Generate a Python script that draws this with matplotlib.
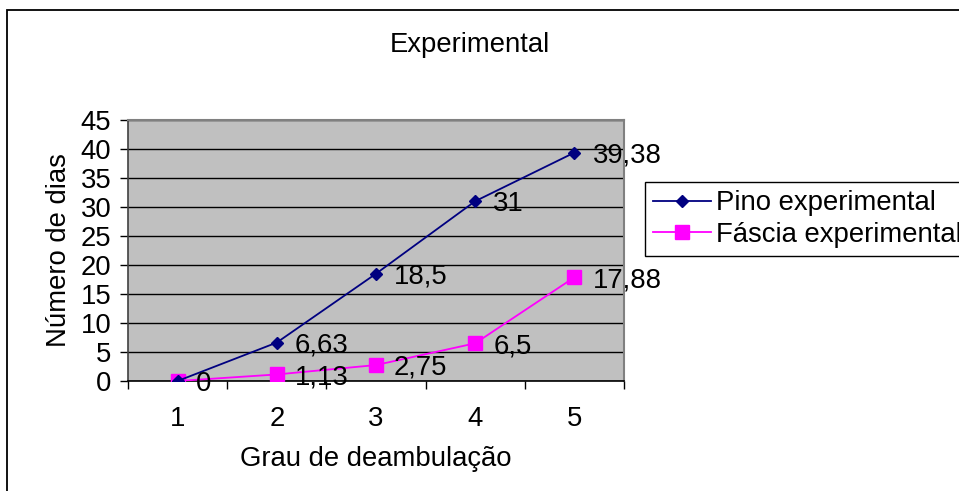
import matplotlib
matplotlib.use('Agg')
import matplotlib.pyplot as plt
from matplotlib.patches import Rectangle

plt.rcParams['font.family'] = ['Liberation Sans', 'DejaVu Sans']

# data
graus = [1, 2, 3, 4, 5]
pino = [0, 6.63, 18.5, 31, 39.38]
fascia = [0, 1.13, 2.75, 6.5, 17.88]
pino_labels = ['0', '6,63', '18,5', '31', '39,38']
fascia_labels = ['0', '1,13', '2,75', '6,5', '17,88']
y_ticks = list(range(0, 50, 5))

fs = 19.8
W, H = 959, 491

fig = plt.figure(figsize=(W / 100, H / 100), dpi=100)
fig.patch.set_facecolor('white')

# outer chart frame (right and bottom edges fall outside the picture)
fig.patches.append(Rectangle((7 / W, -0.2), 1.5, 1.2 - 10 / H, transform=fig.transFigure,
                             fill=False, edgecolor='black', linewidth=1.3))

ax = fig.add_axes([128 / W, 110 / H, 496 / W, 261 / H])
ax.set_facecolor('#C0C0C0')

ax.plot(graus, pino, color='#000080', marker='D', markersize=6.5, linewidth=1.3,
        label='Pino experimental', zorder=4)
ax.plot(graus, fascia, color='#FF00FF', marker='s', markersize=9.5, linewidth=1.3,
        label='Fáscia experimental', zorder=3)

for x, y, t in zip(graus, pino, pino_labels):
    if y == 0:
        continue
    ax.annotate(t, (x, y), xytext=(13, -2), textcoords='offset points',
                ha='left', va='center', fontsize=fs, zorder=5)
for x, y, t in zip(graus, fascia, fascia_labels):
    ax.annotate(t, (x, y), xytext=(13, -2), textcoords='offset points',
                ha='left', va='center', fontsize=fs, zorder=5, annotation_clip=False)

ax.set_xlim(0.5, 5.5)
ax.set_ylim(0, 45)
ax.set_yticks(y_ticks)
ax.set_yticklabels([str(v) for v in y_ticks])
ax.set_xticks(graus)
ax.set_xticks([0.5 + i for i in range(6)], minor=True)
ax.yaxis.grid(True, color='black', linewidth=1.0)
ax.set_axisbelow(True)

ax.tick_params(axis='y', direction='out', length=6, width=1, pad=6, labelsize=fs)
ax.tick_params(axis='x', which='major', length=0, pad=18, labelsize=fs)
ax.tick_params(axis='x', which='minor', direction='out', length=6, width=1)

for side in ['top', 'right']:
    ax.spines[side].set_color('#808080')
    ax.spines[side].set_linewidth(1.5)
ax.spines['left'].set_color('#404040')
ax.spines['left'].set_linewidth(1.2)
ax.spines['bottom'].set_color('black')
ax.spines['bottom'].set_linewidth(1.2)

ax.set_xlabel('Grau de deambulação', fontsize=fs, labelpad=10)
ax.set_ylabel('Número de dias', fontsize=fs, labelpad=6)

fig.text(470 / W, 1 - 45 / H, 'Experimental', ha='center', va='center', fontsize=fs)

leg = ax.legend(loc='upper left', bbox_to_anchor=(645 / W, 1 - 182 / H),
                bbox_transform=fig.transFigure, fontsize=fs, frameon=True,
                fancybox=False, shadow=False, framealpha=1, borderaxespad=0,
                borderpad=0.3, handlelength=2.1, handletextpad=0.2,
                labelspacing=0.2)
leg.get_frame().set_edgecolor('black')
leg.get_frame().set_linewidth(1.0)

fig.savefig('out.png', dpi=100)
